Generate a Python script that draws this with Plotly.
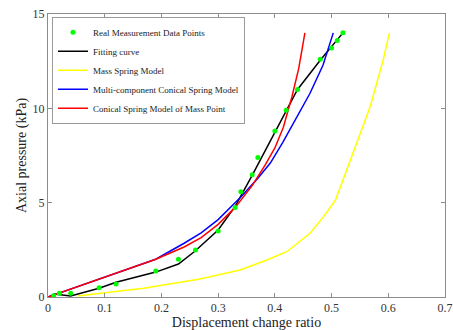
import plotly.graph_objects as go

# Real measurement data points
meas_x = [0.01, 0.02, 0.04, 0.09, 0.12, 0.19, 0.23, 0.26, 0.30, 0.33, 0.34, 0.36, 0.37,
          0.40, 0.42, 0.44, 0.48, 0.50, 0.51, 0.52]
meas_y = [0.07, 0.2, 0.2, 0.49, 0.69, 1.38, 2.0, 2.49, 3.5, 4.75, 5.58, 6.48, 7.4,
          8.8, 9.9, 11.0, 12.6, 13.2, 13.6, 14.0]

# Fitting curve
fit_x = [0.002, 0.011, 0.04, 0.09, 0.12, 0.19, 0.23, 0.26, 0.30, 0.33, 0.36, 0.40, 0.44, 0.48, 0.52]
fit_y = [0.0, 0.16, 0.05, 0.46, 0.78, 1.32, 1.75, 2.45, 3.55, 4.8, 6.45, 8.75, 11.0, 12.55, 14.0]

# Mass spring model
mass_x = [0.052, 0.169, 0.268, 0.339, 0.386, 0.421, 0.462, 0.486, 0.507, 0.538, 0.568, 0.591, 0.602]
mass_y = [0.05, 0.46, 0.95, 1.43, 1.96, 2.4, 3.38, 4.26, 5.14, 7.6, 10.08, 12.56, 14.0]

# Multi-component conical spring model
multi_x = [0.0, 0.1, 0.19, 0.24, 0.27, 0.30, 0.34, 0.37, 0.392, 0.414, 0.44, 0.462, 0.485, 0.503]
multi_y = [0.0, 1.05, 2.0, 2.85, 3.4, 4.1, 5.3, 6.3, 7.1, 8.2, 9.6, 10.8, 12.3, 14.0]

# Conical spring model of mass point
cone_x = [0.0, 0.1, 0.19, 0.24, 0.27, 0.30, 0.33, 0.36, 0.383, 0.40, 0.415, 0.43, 0.442, 0.453]
cone_y = [0.0, 1.05, 2.0, 2.65, 3.15, 3.85, 4.75, 5.9, 7.0, 7.9, 9.0, 10.6, 12.1, 14.0]

x_ticks = [0, 0.1, 0.2, 0.3, 0.4, 0.5, 0.6, 0.7]
x_labels = ["0", "0.1", "0.2", "0.3", "0.4", "0.5", "0.6", "0.7"]
y_ticks = [0, 5, 10, 15]
y_labels = ["0", "5", "10", "15"]

SERIF = "Liberation Serif"

fig = go.Figure()
fig.add_trace(go.Scatter(x=mass_x, y=mass_y, mode="lines", name="Mass Spring Model",
                         line=dict(color="#ffff00", width=1.5), legendrank=3))
fig.add_trace(go.Scatter(x=fit_x, y=fit_y, mode="lines", name="Fitting curve",
                         line=dict(color="#000000", width=1.5), legendrank=2))
fig.add_trace(go.Scatter(x=multi_x, y=multi_y, mode="lines", name="Multi-component Conical Spring Model",
                         line=dict(color="#0000ff", width=1.5), legendrank=4))
fig.add_trace(go.Scatter(x=cone_x, y=cone_y, mode="lines", name="Conical Spring Model of Mass Point",
                         line=dict(color="#ff0000", width=1.5), legendrank=5))
fig.add_trace(go.Scatter(x=meas_x, y=meas_y, mode="markers", name="Real Measurement Data Points",
                         marker=dict(color="#00ff00", size=5, line=dict(width=0)), legendrank=1))

axis_common = dict(
    showline=True, linecolor="#8c8c8c", linewidth=1, mirror="ticks",
    ticks="inside", ticklen=4, tickcolor="#8c8c8c",
    showgrid=False, zeroline=False, automargin=False,
    tickfont=dict(family=SERIF, size=12, color="#333333"),
)

fig.update_layout(
    width=453, height=330,
    margin=dict(l=48, r=8, t=14, b=33),
    paper_bgcolor="white", plot_bgcolor="white",
    font=dict(family=SERIF, color="#222222"),
    showlegend=True,
    legend=dict(
        x=0.01, y=0.99, xanchor="left", yanchor="top",
        bgcolor="white", bordercolor="#9a9a9a", borderwidth=1,
        font=dict(family=SERIF, size=9, color="#222222"),
        tracegroupgap=0, itemwidth=30,
    ),
    xaxis=dict(range=[0, 0.7], tickvals=x_ticks, ticktext=x_labels,
               title=dict(text="Displacement change ratio", font=dict(family=SERIF, size=14, color="#222222"), standoff=0),
               **axis_common),
    yaxis=dict(range=[0, 15], tickvals=y_ticks, ticktext=y_labels,
               title=dict(text="Axial pressure (kPa)", font=dict(family=SERIF, size=14, color="#222222"), standoff=2),
               **axis_common),
)

fig.write_html("out.html", config={"displayModeBar": False},
               post_script="document.body.style.margin='0';document.body.style.overflow='hidden';")
